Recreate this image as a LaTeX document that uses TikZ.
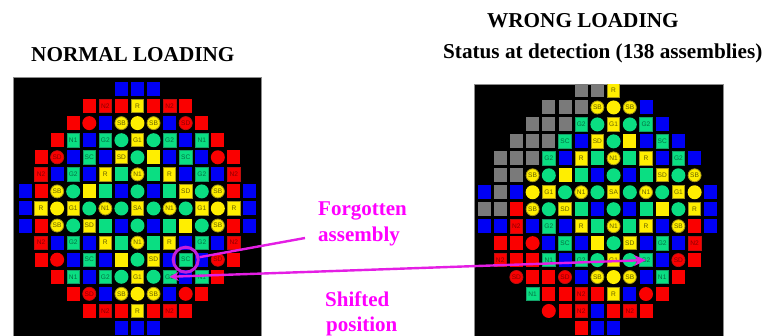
\documentclass[tikz,border=0pt]{standalone}
\usepackage{fontspec}
\setmainfont{Liberation Serif}
\newfontfamily\cellfont{Liberation Sans}
\usetikzlibrary{arrows.meta}
\definecolor{cblue}{RGB}{0,0,245}
\definecolor{cred}{RGB}{250,0,0}
\definecolor{dred}{RGB}{190,15,15}
\definecolor{cgreen}{RGB}{10,222,130}
\definecolor{dgreen}{RGB}{20,160,105}
\definecolor{cyellow}{RGB}{255,238,0}
\definecolor{dyellow}{RGB}{165,150,20}
\definecolor{cgray}{RGB}{122,122,122}
\definecolor{cmag}{RGB}{255,0,255}
\definecolor{lmag}{RGB}{228,30,228}
\definecolor{rmag}{RGB}{195,30,220}
\tikzset{
  cell/.style={inner sep=0pt,outer sep=0pt,font=\cellfont\fontsize{6.6}{7}\selectfont},
  sq/.style={cell,rectangle,minimum width=13pt,minimum height=14pt},
  rnd/.style={cell,circle,minimum size=14pt},
  % plain cells
  cB/.style={sq,fill=cblue,node contents={}},
  cR/.style={sq,fill=cred,node contents={}},
  cG/.style={sq,fill=cgreen,node contents={}},
  cY/.style={sq,fill=cyellow,node contents={}},
  cX/.style={sq,fill=cgray,node contents={}},
  cO/.style={rnd,fill=cred,node contents={}},
  cC/.style={rnd,fill=cgreen,node contents={}},
  cU/.style={rnd,fill=cyellow,node contents={}},
  % labelled cells
  yellowsq/.style={sq,minimum width=12.4pt,minimum height=13.2pt,fill=cyellow,draw=dyellow,line width=.8pt,text=black!60!cyellow},
  yellowrd/.style={rnd,minimum size=13pt,fill=cyellow,draw=dyellow,line width=.8pt,text=black!60!cyellow},
  greensq/.style={sq,minimum width=12.6pt,minimum height=13.4pt,fill=cgreen,draw=dgreen,line width=.6pt,text=black!50!cgreen},
  cN/.style={sq,minimum width=12.6pt,minimum height=13.4pt,fill=cred,draw=dred,line width=.6pt,text=black!45!cred,node contents={N2}},
  cD/.style={rnd,minimum size=13.2pt,fill=cred,draw=dred,line width=.7pt,text=black!45!cred,node contents={SD}},
  cK/.style={yellowsq,node contents={R}},
  cA/.style={yellowsq,node contents={G1}},
  cS/.style={yellowsq,node contents={SD}},
  cZ/.style={yellowsq,node contents={SA}},
  cT/.style={yellowrd,node contents={N1}},
  cP/.style={yellowrd,node contents={SB}},
  cQ/.style={greensq,node contents={SC}},
  cW/.style={greensq,node contents={G2}},
  cV/.style={greensq,node contents={N1}},
  core/.style={fill=black,draw=black!45,line width=.7pt},
  heading/.style={inner sep=0pt,anchor=base west,text=black,font=\bfseries\fontsize{21.2}{24}\selectfont},
  callout/.style={inner sep=0pt,anchor=base west,text=cmag,font=\bfseries\fontsize{21}{24}\selectfont},
  pointer/.style={draw=lmag,line width=2.4pt},
  ringmark/.style={circle,draw=rmag,line width=3pt,minimum size=25pt,inner sep=0pt},
}
\begin{document}
\begin{tikzpicture}[x=1pt,y=-1pt]
\useasboundingbox (0,0) rectangle (764,336);
\fill[white] (0,0) rectangle (764,336);
\path[core] (13,77.5) rectangle (261,337);
\path[core] (474,84) rectangle (723,337);

\foreach \r/\s/\cells in {
  1/7/{B,B,B},
  2/5/{R,N,R,K,R,N,R},
  3/4/{R,O,B,P,U,P,B,D,R},
  4/3/{R,V,B,W,C,A,C,W,B,V,R},
  5/2/{R,D,B,Q,B,S,C,Y,B,Q,B,O,R},
  6/2/{N,B,W,B,K,G,T,G,K,B,W,B,N},
  7/1/{B,R,P,C,Y,G,B,C,B,G,S,C,P,R,B},
  8/1/{B,K,U,A,C,T,C,Z,C,T,C,A,U,K,B},
  9/1/{B,R,P,C,S,G,B,C,B,G,Y,C,P,R,B},
  10/2/{N,B,W,B,K,G,T,G,K,B,W,B,N},
  11/2/{R,O,B,Q,B,Y,C,S,B,Q,B,D,R},
  12/3/{R,V,B,W,C,A,C,W,B,V,R},
  13/4/{R,D,B,P,U,P,B,O,R},
  14/5/{R,N,R,K,R,N,R},
  15/7/{B,B,B}}
  \foreach \k [count=\c from \s] in \cells
    \node[c\k,name=L-\r-\c,at={({25+16.07*(\c-1)},{89+17.07*(\r-1)})}];

\foreach \r/\s/\cells in {
  1/7/{X,X,K},
  2/5/{X,X,X,P,U,P,B},
  3/4/{X,X,X,W,C,A,C,W,B},
  4/3/{X,X,X,Q,B,S,C,Y,B,Q,B},
  5/2/{X,X,X,W,B,K,G,T,G,K,B,W,B},
  6/2/{X,X,P,C,Y,G,B,C,B,G,S,C,P},
  7/1/{B,X,B,U,A,C,T,C,Z,C,T,C,A,U,B},
  8/1/{X,X,R,P,C,S,G,B,C,B,G,Y,C,K,B},
  9/1/{B,B,N,B,W,B,K,G,T,G,K,B,P,R,B},
  10/2/{R,R,O,B,Q,B,Y,C,S,B,W,B,N},
  11/2/{N,R,R,V,B,W,C,A,C,W,B,D,R},
  12/3/{D,R,R,D,B,P,U,P,B,V,R},
  13/4/{V,R,R,N,R,K,B,O,R},
  14/5/{O,R,N,B,R,N,R},
  15/7/{R,B,B}}
  \foreach \k [count=\c from \s] in \cells
    \node[c\k,name=R-\r-\c,at={({484+16.2*(\c-1)},{90.5+16.96*(\r-1)})}];

\fill[white] (474,70) rectangle (723,83.6);

\node[heading] (normal) at (31,62) {NORMAL LOADING};
\node[heading] (wrong) at (487,28) {WRONG LOADING};
\node[heading] (status) at (443,59) {Status at detection (138 assemblies)};
\node[callout] (forgot1) at (318,216) {Forgotten};
\node[callout] (forgot2) at (318,242) {assembly};
\node[callout] (shift1) at (325,307) {Shifted};
\node[callout] (shift2) at (326,332) {position};

\node[ringmark] (ring) at (L-11-11) {};
\coordinate (forgottail) at (305,238);
\draw[pointer] (forgottail) -- (ring);
\draw[pointer,{Stealth[length=9pt,width=9pt]}-{Stealth[length=12pt,width=11pt]}]
  (L-12-10.center) -- (R-11-11.center);
\end{tikzpicture}
\end{document}
